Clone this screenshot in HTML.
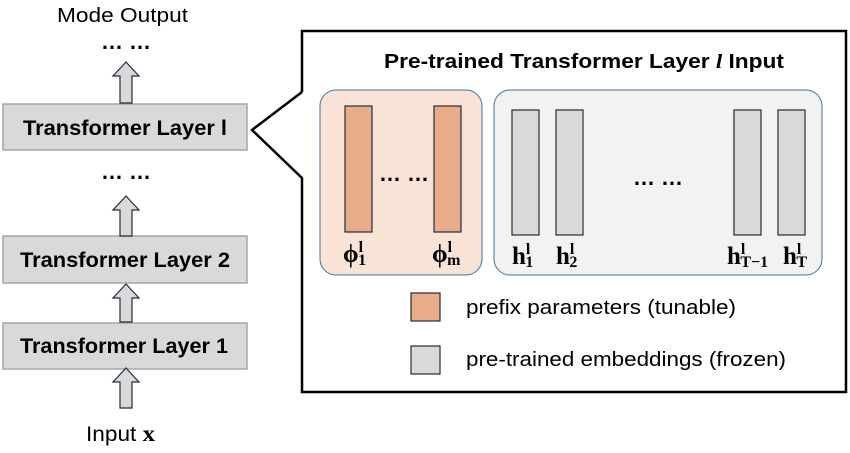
<!DOCTYPE html>
<html><head><meta charset="utf-8"><style>
body{margin:0;background:#fff;width:850px;height:448px;overflow:hidden}
</style></head><body>
<svg width="850" height="448" xmlns="http://www.w3.org/2000/svg" font-family="Liberation Sans, sans-serif">
<text x="57" y="22" font-size="20" textLength="131" lengthAdjust="spacingAndGlyphs">Mode Output</text>
<text x="126" y="49" font-size="22" font-weight="bold" text-anchor="middle">… …</text>
<text x="126" y="179" font-size="22" font-weight="bold" text-anchor="middle">… …</text>
<g fill="#d9d9d9" stroke="#a6a6a6" stroke-width="1.5">
<rect x="3" y="104" width="244" height="46"/>
<rect x="3" y="236" width="244" height="47"/>
<rect x="3" y="323" width="244" height="46"/>
</g>
<g font-size="21" font-weight="bold">
<text x="23" y="135" textLength="204" lengthAdjust="spacingAndGlyphs">Transformer Layer l</text>
<text x="20" y="267" textLength="210" lengthAdjust="spacingAndGlyphs">Transformer Layer 2</text>
<text x="20" y="353" textLength="208" lengthAdjust="spacingAndGlyphs">Transformer Layer 1</text>
</g>
<g fill="#d9d9d9" stroke="#1f2d3d" stroke-width="1.2">
<path d="M120,103 V76 H113 L126,62 L139,76 H132 V103 Z"/>
<path d="M120,236 V210 H113 L126,196 L139,210 H132 V236 Z"/>
<path d="M120,322 V298 H113 L126,284 L139,298 H132 V322 Z"/>
<path d="M120,408 V382 H113 L126,368 L139,382 H132 V408 Z"/>
</g>
<text x="86" y="441" font-size="21" textLength="69" lengthAdjust="spacingAndGlyphs">Input <tspan font-family="Liberation Serif, serif" font-weight="bold" font-size="23">x</tspan></text>
<path d="M302,92 V31 H846 V392 H302 V178 L252,130 L302,92" fill="none" stroke="#000" stroke-width="2.5"/>
<text x="384" y="68" font-size="20" font-weight="bold" textLength="400" lengthAdjust="spacingAndGlyphs">Pre-trained Transformer Layer <tspan font-family="Liberation Serif, serif" font-style="italic">l</tspan> Input</text>
<rect x="320" y="90" width="162" height="185" rx="16" fill="#f8e3d6" stroke="#41719c" stroke-width="1"/>
<rect x="494" y="90" width="328" height="185" rx="16" fill="#f2f2f2" stroke="#41719c" stroke-width="1"/>
<g fill="#e8ad88" stroke="#1f2d3d" stroke-width="1.2">
<rect x="345" y="106" width="27" height="126"/>
<rect x="434" y="106" width="27" height="126"/>
<rect x="411" y="293" width="29" height="28"/>
</g>
<g fill="#d9d9d9" stroke="#1f2d3d" stroke-width="1.2">
<rect x="512" y="110" width="27" height="125"/>
<rect x="556" y="110" width="27" height="125"/>
<rect x="734" y="110" width="27" height="125"/>
<rect x="778" y="110" width="27" height="125"/>
<rect x="411" y="346" width="29" height="28"/>
</g>
<text x="404" y="181" font-size="22" font-weight="bold" text-anchor="middle">… …</text>
<text x="658" y="185" font-size="22" font-weight="bold" text-anchor="middle">… …</text>
<g font-family="Liberation Serif, serif" font-weight="bold" font-size="25">
<text x="343" y="262">ϕ<tspan font-size="16" dy="-10">l</tspan><tspan font-size="16" dx="-5" dy="13">1</tspan></text>
<text x="432" y="262">ϕ<tspan font-size="16" dy="-10">l</tspan><tspan font-size="16" dx="-5" dy="13">m</tspan></text>
<text x="512" y="264">h<tspan font-size="16" dy="-10">l</tspan><tspan font-size="16" dx="-5" dy="13">1</tspan></text>
<text x="556" y="264">h<tspan font-size="16" dy="-10">l</tspan><tspan font-size="16" dx="-5" dy="13">2</tspan></text>
<text x="727" y="264">h<tspan font-size="16" dy="-10">l</tspan><tspan font-size="16" dx="-5" dy="13">T−1</tspan></text>
<text x="783" y="264">h<tspan font-size="16" dy="-10">l</tspan><tspan font-size="16" dx="-5" dy="13">T</tspan></text>
</g>
<text x="466" y="314" font-size="20" textLength="270" lengthAdjust="spacingAndGlyphs">prefix parameters (tunable)</text>
<text x="466" y="366" font-size="20" textLength="320" lengthAdjust="spacingAndGlyphs">pre-trained embeddings (frozen)</text>
</svg>
</body></html>
